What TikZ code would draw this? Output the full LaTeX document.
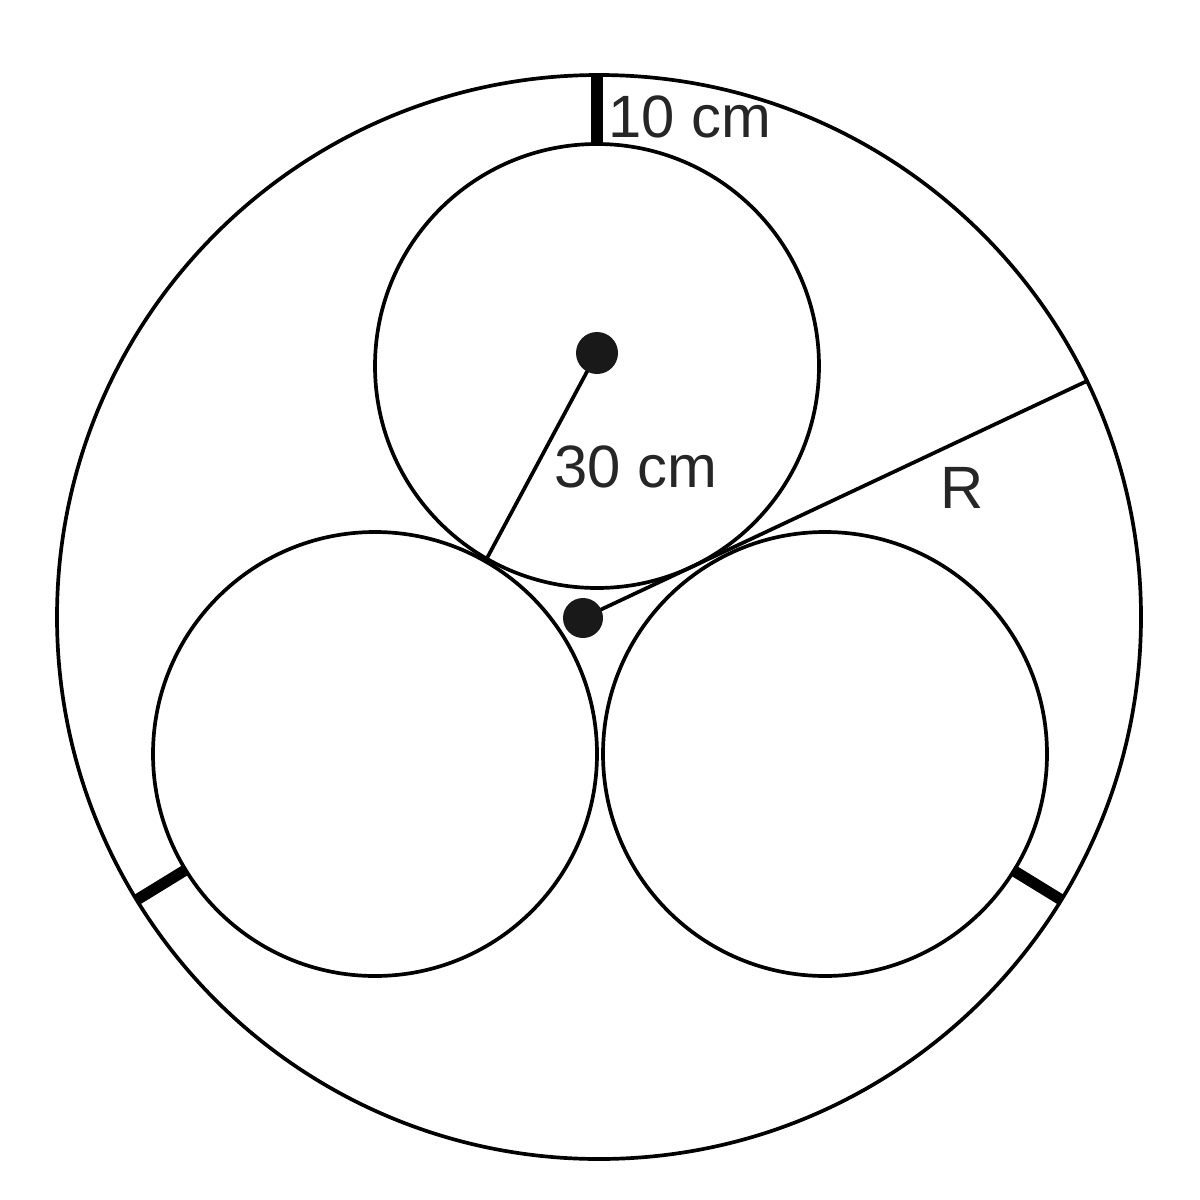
\documentclass[tikz,border=0pt]{standalone}
\usepackage{fontspec}
\setmainfont{Liberation Sans}
\begin{document}
\begin{tikzpicture}[x=0.01cm,y=-0.01cm,
  thin line/.style={line width=1.05pt},
  thick mark/.style={line width=3.2pt},
  dotfill/.style={fill=black!90},
  lbl/.style={inner sep=0pt, font=\fontsize{17}{20}\selectfont, text=black!85}]
\useasboundingbox (0,0) rectangle (1200,1200);
% centres
\coordinate (O) at (599,617);
\coordinate (T) at (597,366);
\coordinate (L) at (375,754);
\coordinate (Rc) at (825,754);
\coordinate (Tdot) at (597,353);
\coordinate (Cdot) at (583,618);
% circles
\draw[thin line] (O) circle (542);
\draw[thin line] (T) circle (222);
\draw[thin line] (L) circle (222);
\draw[thin line] (Rc) circle (222);
% thick gap marks
\coordinate (m1a) at (597,73);
\coordinate (m1b) at (597,145);
\coordinate (m2a) at (136.7,899.9);
\coordinate (m2b) at (185.6,869.9);
\coordinate (m3a) at (1061.3,899.9);
\coordinate (m3b) at (1012.4,869.9);
\draw[thick mark] (m1a) -- (m1b);
\draw[thick mark] (m2a) -- (m2b);
\draw[thick mark] (m3a) -- (m3b);
% radius lines
\coordinate (tan) at (486,560);
\coordinate (Rend) at (1087,381);
\draw[thin line] (Tdot) -- (tan);
\draw[thin line] (Cdot) -- (Rend);
% dots
\fill[dotfill] (Tdot) circle (21);
\fill[dotfill] (Cdot) circle (20);
% labels
\node[lbl] (l10) at (690,117) {10 cm};
\node[lbl] (l30) at (636,467) {30 cm};
\node[lbl] (lR) at (962,488) {R};
\end{tikzpicture}
\end{document}
